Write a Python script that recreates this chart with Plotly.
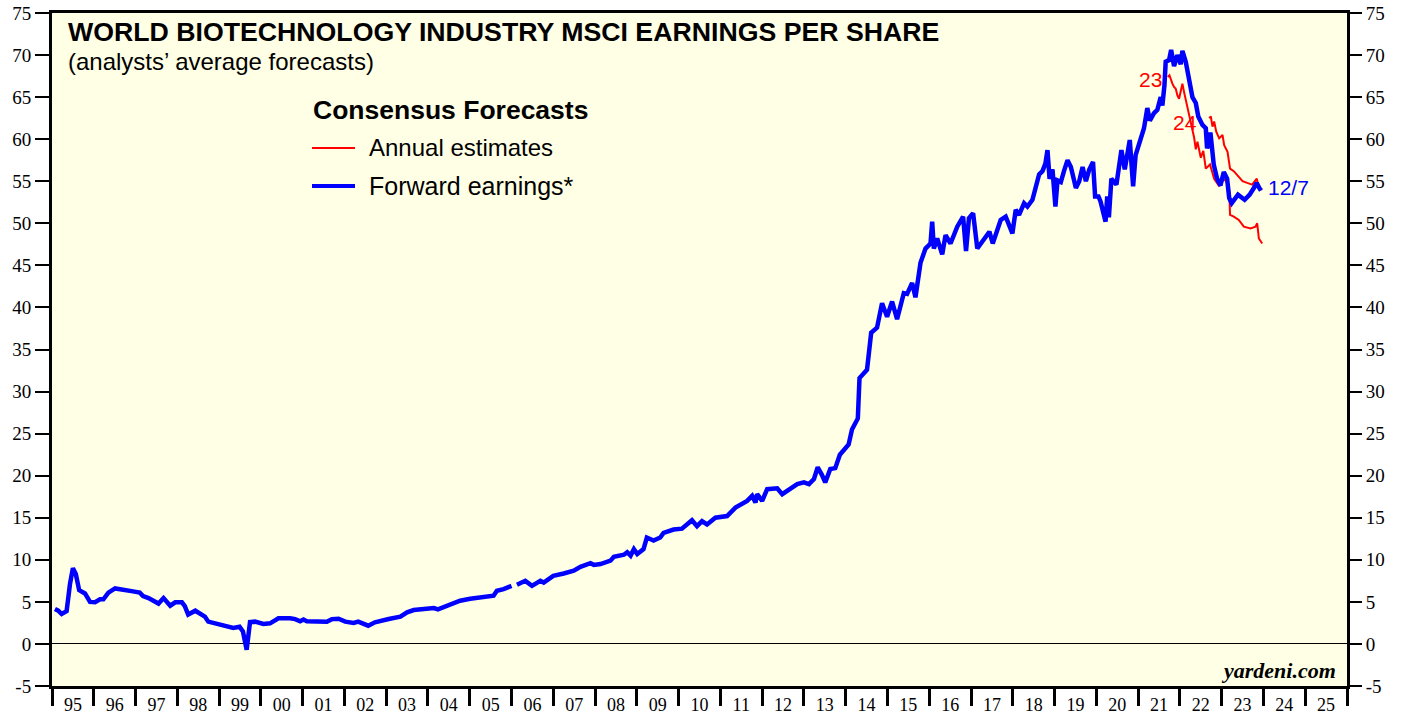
import plotly.graph_objects as go

# ---------------- data (decimal years, EPS values) ----------------
fwd_t = [1995.07, 1995.15, 1995.23, 1995.35, 1995.43, 1995.50, 1995.57, 1995.65, 1995.79, 1995.91,
         1996.03, 1996.15, 1996.23, 1996.35, 1996.51, 1996.70, 1996.94, 1997.10, 1997.18, 1997.31,
         1997.55, 1997.67, 1997.83, 1997.95, 1998.11, 1998.18, 1998.26, 1998.43, 1998.59, 1998.66,
         1998.74, 1998.94, 1999.19, 1999.34, 1999.49, 1999.57, 1999.66, 1999.74, 1999.86, 2000.06,
         2000.22, 2000.42, 2000.70, 2000.82, 2000.94, 2001.02, 2001.10, 2001.34, 2001.58, 2001.70,
         2001.86, 2002.02, 2002.14, 2002.22, 2002.33, 2002.45, 2002.57, 2002.73, 2002.86, 2003.06,
         2003.34, 2003.50, 2003.66, 2003.90, 2004.14, 2004.24, 2004.45, 2004.77, 2005.01, 2005.25,
         2005.57, 2005.65, 2005.81, 2006.00, 2006.06, 2006.13, 2006.33, 2006.49, 2006.69, 2006.77,
         2007.00, 2007.25, 2007.49, 2007.65, 2007.89, 2007.97, 2008.13, 2008.37, 2008.45, 2008.69,
         2008.77, 2008.85, 2008.93, 2009.01, 2009.16, 2009.24, 2009.40, 2009.56, 2009.64, 2009.88,
         2010.08, 2010.32, 2010.44, 2010.56, 2010.68, 2010.88, 2011.16, 2011.36, 2011.64, 2011.76,
         2011.84, 2011.88, 2012.00, 2012.12, 2012.36, 2012.48, 2012.60, 2012.84, 2013.00, 2013.12,
         2013.24, 2013.33, 2013.43, 2013.51, 2013.63, 2013.75, 2013.86, 2014.07, 2014.15, 2014.29,
         2014.33, 2014.51, 2014.61, 2014.75, 2014.87, 2014.99, 2015.11, 2015.23, 2015.39, 2015.47,
         2015.59, 2015.67, 2015.79, 2015.91, 2016.03, 2016.07, 2016.11, 2016.19, 2016.31, 2016.39,
         2016.51, 2016.67, 2016.81, 2016.88, 2016.95, 2017.05, 2017.15, 2017.31, 2017.44, 2017.52,
         2017.71, 2017.83, 2017.99, 2018.07, 2018.15, 2018.27, 2018.35, 2018.47, 2018.63, 2018.71,
         2018.78, 2018.83, 2018.88, 2018.95, 2019.02, 2019.07, 2019.15, 2019.23, 2019.31, 2019.39,
         2019.51, 2019.59, 2019.67, 2019.75, 2019.83, 2019.92, 2019.97, 2020.05, 2020.10, 2020.18,
         2020.22, 2020.26, 2020.30, 2020.36, 2020.48, 2020.60, 2020.68, 2020.80, 2020.88, 2020.94,
         2021.06, 2021.14, 2021.22, 2021.28, 2021.38, 2021.46, 2021.54, 2021.58, 2021.63, 2021.66,
         2021.74, 2021.79, 2021.86, 2021.94, 2022.02, 2022.06, 2022.14, 2022.22, 2022.30, 2022.38,
         2022.44, 2022.54, 2022.62, 2022.65, 2022.73, 2022.81, 2022.89, 2022.97, 2023.05, 2023.13,
         2023.18, 2023.24, 2023.39, 2023.55, 2023.67, 2023.77, 2023.84, 2023.90, 2023.94]
fwd_v = [4.15, 3.95, 3.56, 3.9, 7.1, 9.0, 8.3, 6.4, 6.0, 5.0,
         4.95, 5.3, 5.3, 6.1, 6.6, 6.5, 6.25, 6.1, 5.7, 5.45,
         4.8, 5.45, 4.55, 4.95, 4.95, 4.5, 3.5, 3.95, 3.35, 3.25,
         2.65, 2.37, 2.05, 1.9, 2.05, 1.5, -0.7, 2.6, 2.65, 2.37,
         2.45, 3.05, 3.05, 2.95, 2.7, 2.9, 2.7, 2.7, 2.65, 2.95,
         3.0, 2.65, 2.6, 2.5, 2.65, 2.37, 2.17, 2.57, 2.77, 2.96,
         3.24, 3.75, 4.03, 4.15, 4.27, 4.1, 4.54, 5.14, 5.37, 5.53,
         5.73, 6.32, 6.52, 6.9, None, 7.03, 7.5, 6.9, 7.5, 7.3,
         8.1, 8.37, 8.7, 9.17, 9.6, 9.4, 9.5, 9.9, 10.36, 10.6,
         10.9, 10.5, 11.27, 10.7, 11.27, 12.65, 12.3, 12.65, 13.2, 13.6,
         13.7, 14.7, 14.0, 14.6, 14.2, 15.0, 15.2, 16.2, 17.0, 17.6,
         16.8, 17.8, 17.0, 18.4, 18.5, 17.8, 18.2, 19.0, 19.2, 19.0,
         19.6, 21.0, 20.1, 19.2, 20.8, 20.9, 22.5, 23.7, 25.5, 26.8,
         31.6, 32.6, 37.0, 37.6, 40.5, 38.9, 40.7, 38.6, 41.7, 41.6,
         42.9, 41.2, 45.3, 47.0, 47.6, 50.2, 47.0, 48.2, 46.3, 48.6,
         47.6, 49.6, 50.8, 46.7, 50.6, 51.2, 47.0, 48.0, 49.0, 47.6,
         50.4, 50.8, 48.8, 51.6, 51.0, 52.4, 52.0, 52.8, 55.8, 56.2,
         57.1, 58.7, 55.3, 56.4, 52.0, 55.1, 54.9, 56.3, 57.5, 56.7,
         54.2, 55.0, 56.7, 55.0, 56.4, 57.3, 53.2, 53.2, 52.6, 51.0,
         50.2, 53.2, 50.7, 55.3, 54.6, 58.7, 56.4, 59.9, 54.4, 58.1,
         60.1, 61.3, 63.7, 62.2, 63.1, 63.5, 65.0, 64.0, 66.4, 69.2,
         69.4, 70.6, 68.7, 70.0, 68.9, 70.5, 69.2, 66.8, 65.0, 64.3,
         62.7, 61.7, 61.3, 58.9, 60.8, 57.0, 55.3, 54.5, 56.1, 55.3,
         53.0, 52.4, 53.4, 52.8, 53.4, 54.2, 54.8, 54.2, 53.9]

est23_t = [2021.71, 2021.75, 2021.82, 2021.86, 2021.90, 2021.94, 2021.98, 2022.02, 2022.06, 2022.10,
           2022.18, 2022.26, 2022.34, 2022.38, 2022.42, 2022.50, 2022.56, 2022.62, 2022.72, 2022.82,
           2022.94, 2022.99, 2023.10, 2023.18, 2023.20, 2023.29, 2023.41, 2023.53, 2023.69, 2023.81,
           2023.85, 2023.89, 2023.97]
est23_v = [67.4, 67.6, 66.6, 66.2, 66.0, 65.2, 64.8, 65.8, 66.6, 65.6,
           63.7, 62.1, 60.2, 58.8, 59.7, 57.8, 58.6, 56.5, 57.0, 55.3,
           54.4, 55.0, 55.2, 54.0, 51.0, 50.8, 50.4, 49.6, 49.4, 49.6,
           50.0, 48.2, 47.6]

est24_t = [2022.70, 2022.74, 2022.78, 2022.82, 2022.87, 2022.94, 2023.02, 2023.06, 2023.14, 2023.20,
           2023.29, 2023.38, 2023.50, 2023.61, 2023.73, 2023.84, 2023.89, 2023.97]
est24_v = [62.5, 62.7, 61.5, 62.1, 60.9, 60.1, 60.5, 59.3, 58.5, 56.5,
           56.2, 55.7, 55.0, 54.8, 54.6, 55.3, 54.2, 54.0]

year_ticks = list(range(1995, 2027))
year_labels = ["95", "96", "97", "98", "99", "00", "01", "02", "03", "04", "05", "06", "07",
               "08", "09", "10", "11", "12", "13", "14", "15", "16", "17", "18", "19", "20",
               "21", "22", "23", "24", "25"]
y_ticks = list(range(-5, 80, 5))
y_labels = [str(v) for v in y_ticks]

# ---------------- layout geometry ----------------
W, H = 1407, 717
L, R, T, B = 52, 1347, 13, 686


def px(x):
    return (x - L) / (R - L)


def py(y):
    return (B - y) / (B - T)


BLUE = "#0000FF"
RED = "#FF0000"
SANS = "Liberation Sans, Arial, sans-serif"
SERIF = "Liberation Serif, Times New Roman, serif"

fig = go.Figure()
fig.add_trace(go.Scatter(x=est23_t, y=est23_v, mode="lines",
                         line=dict(color=RED, width=2), showlegend=False, hoverinfo="skip"))
fig.add_trace(go.Scatter(x=est24_t, y=est24_v, mode="lines",
                         line=dict(color=RED, width=2), showlegend=False, hoverinfo="skip"))
fig.add_trace(go.Scatter(x=fwd_t, y=fwd_v, mode="lines", connectgaps=False,
                         line=dict(color=BLUE, width=4.5), showlegend=False, hoverinfo="skip"))
# helper (empty) trace to create the overlay axes for labels
fig.add_trace(go.Scatter(x=[None], y=[None], xaxis="x2", yaxis="y2",
                         showlegend=False, hoverinfo="skip"))

tickfont = dict(family=SERIF, size=19, color="black")

fig.update_layout(
    template="none",
    width=W, height=H,
    margin=dict(l=L, r=W - R, t=T, b=H - B, pad=0),
    paper_bgcolor="white",
    plot_bgcolor="#FFFFE5",
    showlegend=False,
    xaxis=dict(range=[1995, 2026], tickvals=year_ticks, showticklabels=False,
               ticks="outside", ticklen=17, tickwidth=3, tickcolor="black",
               showline=True, linewidth=3, linecolor="black", mirror=True,
               showgrid=False, zeroline=False, automargin=False),
    xaxis2=dict(range=[1995, 2026], overlaying="x", anchor="y2", side="bottom",
                tickvals=[y + 0.5 for y in year_ticks[:-1]], ticktext=year_labels,
                ticks="outside", ticklen=2, tickcolor="rgba(0,0,0,0)",
                tickfont=dict(family=SERIF, size=18, color="black"),
                showline=False, showgrid=False, zeroline=False, automargin=False),
    yaxis=dict(range=[-5, 75], tickvals=y_ticks, ticktext=y_labels, ticks="outside",
               ticklen=14, tickwidth=2, tickcolor="black", tickfont=tickfont,
               showline=True, linewidth=3, linecolor="black", mirror=True,
               showgrid=False, zeroline=True, zerolinecolor="black", zerolinewidth=1,
               automargin=False),
    yaxis2=dict(range=[-5, 75], tickvals=y_ticks, ticktext=y_labels, overlaying="y",
                side="right", anchor="x2",
                ticks="outside", ticklen=14, tickwidth=2, tickcolor="black", tickfont=tickfont,
                showline=False, showgrid=False, zeroline=False, automargin=False),
)

ann = []
ann.append(dict(xref="paper", yref="paper", x=px(66), y=py(32), xanchor="left", yanchor="middle",
                text="<b>WORLD BIOTECHNOLOGY INDUSTRY MSCI EARNINGS PER SHARE</b>",
                font=dict(family=SANS, size=26.7, color="black"), showarrow=False))
ann.append(dict(xref="paper", yref="paper", x=px(66), y=py(62), xanchor="left", yanchor="middle",
                text="(analysts’ average forecasts)",
                font=dict(family=SANS, size=24, color="black"), showarrow=False))
ann.append(dict(xref="paper", yref="paper", x=px(311), y=py(110), xanchor="left", yanchor="middle",
                text="<b>Consensus Forecasts</b>",
                font=dict(family=SANS, size=26.5, color="black"), showarrow=False))
ann.append(dict(xref="paper", yref="paper", x=px(367), y=py(148), xanchor="left", yanchor="middle",
                text="Annual estimates",
                font=dict(family=SANS, size=24, color="black"), showarrow=False))
ann.append(dict(xref="paper", yref="paper", x=px(367), y=py(186), xanchor="left", yanchor="middle",
                text="Forward earnings*",
                font=dict(family=SANS, size=25, color="black"), showarrow=False))
ann.append(dict(xref="paper", yref="paper", x=px(1338), y=py(670), xanchor="right", yanchor="middle",
                text="<b><i>yardeni.com</i></b>",
                font=dict(family=SERIF, size=22, color="black"), showarrow=False))
# series labels in data coordinates
ann.append(dict(x=2021.63, y=67.1, xanchor="right", yanchor="middle", text="23",
                font=dict(family=SANS, size=21, color=RED), showarrow=False))
ann.append(dict(x=2022.45, y=62.0, xanchor="right", yanchor="middle", text="24",
                font=dict(family=SANS, size=21, color=RED), showarrow=False))
ann.append(dict(x=2024.05, y=54.2, xanchor="left", yanchor="middle", text="12/7",
                font=dict(family=SANS, size=21, color=BLUE), showarrow=False))
fig.update_layout(annotations=ann)

# legend sample lines
fig.add_shape(type="line", xref="paper", yref="paper", x0=px(312), x1=px(355), y0=py(148), y1=py(148),
              line=dict(color=RED, width=2))
fig.add_shape(type="line", xref="paper", yref="paper", x0=px(312), x1=px(355), y0=py(186), y1=py(186),
              line=dict(color=BLUE, width=4))

fig.write_html("out.html", config={"displayModeBar": False},
               post_script="document.body.style.margin='0';document.body.style.overflow='hidden';")
